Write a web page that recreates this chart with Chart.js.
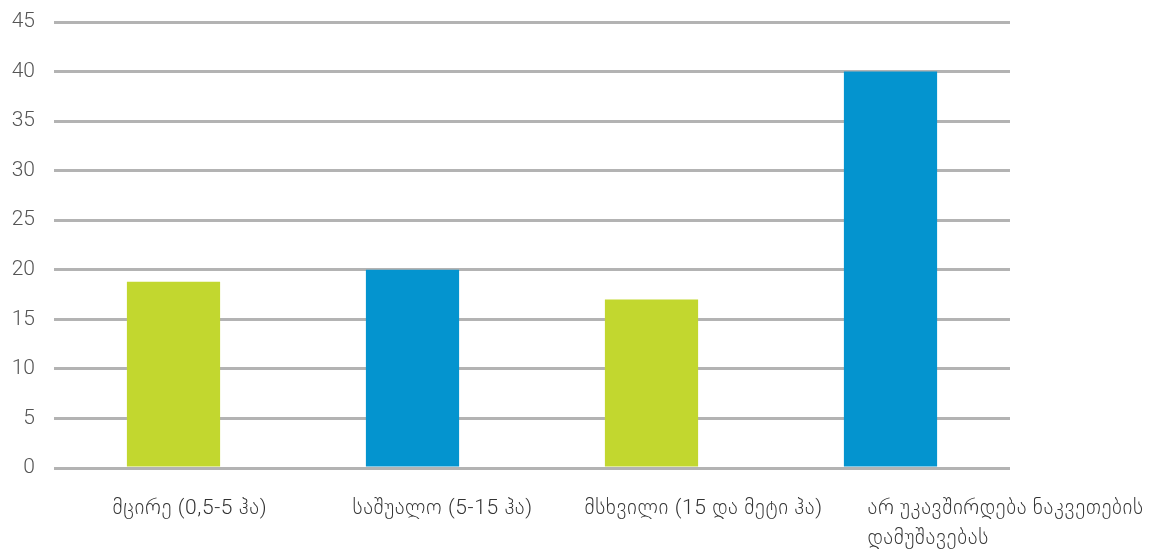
<!DOCTYPE html>
<html>
<head>
<meta charset="utf-8">
<script src="https://cdn.jsdelivr.net/npm/chart.js@4.4.1/dist/chart.umd.min.js"></script>
<style>
    html, body { margin: 0; padding: 0; background: #fff; }
    #wrap { width: 1166px; height: 552px; position: relative; }
</style>
</head>
<body>
<div id="wrap"><canvas id="farmChart"></canvas></div>
<script>
const categories = [
    ['მცირე (0,5-5 ჰა)'],
    ['საშუალო (5-15 ჰა)'],
    ['მსხვილი (15 და მეტი ჰა)'],
    ['არ უკავშირდება ნაკვეთების', 'დამუშავებას']
];
const values = [18.8, 20, 17, 40];
const barColors = ['#c2d72f', '#0494cf', '#c2d72f', '#0494cf'];
const yTicks = [0, 5, 10, 15, 20, 25, 30, 35, 40, 45];

// x labels are left aligned, shifted from the bar centre like in the original
const labelShift = [-61, -60, -67, -23];

var xLabels = {
    id: 'xLabels',
    afterDraw(chart) {
        const ctx = chart.ctx;
        const xs = chart.scales.x;
        const bottom = chart.chartArea.bottom;
        ctx.save();
        ctx.font = '300 21px Roboto, "DejaVu Sans", sans-serif';
        ctx.letterSpacing = '0.6px';
        ctx.fillStyle = '#333';
        ctx.textAlign = 'left';
        ctx.textBaseline = 'middle';
        categories.forEach((lines, i) => {
            const x = xs.getPixelForValue(i) + labelShift[i];
            lines.forEach((line, j) => {
                ctx.fillText(line, x, bottom + 41 + j * 30);
            });
        });
        ctx.restore();
    }
};

new Chart(document.getElementById('farmChart'), {
    type: 'bar',
    data: {
        labels: categories.map(c => c.join(' ')),
        datasets: [{
            data: values,
            backgroundColor: barColors,
            borderWidth: 0,
            barPercentage: 0.39,
            categoryPercentage: 1
        }]
    },
    options: {
        responsive: true,
        maintainAspectRatio: false,
        animation: false,
        layout: {
            padding: { top: 22, right: 156, bottom: 0, left: 0 }
        },
        plugins: {
            legend: { display: false },
            tooltip: { enabled: false }
        },
        scales: {
            x: {
                grid: { display: false },
                border: { display: false },
                ticks: { display: false },
                afterFit(scale) { scale.height = 84; }
            },
            y: {
                min: 0,
                max: 45,
                afterBuildTicks(scale) { scale.ticks = yTicks.map(v => ({ value: v })); },
                afterFit(scale) {
                    scale.width = 54;
                    scale.paddingTop = 0;
                    scale.paddingBottom = 0;
                },
                grid: { color: '#b3b3b3', lineWidth: 3, drawTicks: false },
                border: { display: false },
                ticks: {
                    padding: 19,
                    color: '#555',
                    font: { family: 'Roboto', size: 21, weight: 300 }
                }
            }
        }
    },
    plugins: [xLabels]
});
</script>
</body>
</html>
